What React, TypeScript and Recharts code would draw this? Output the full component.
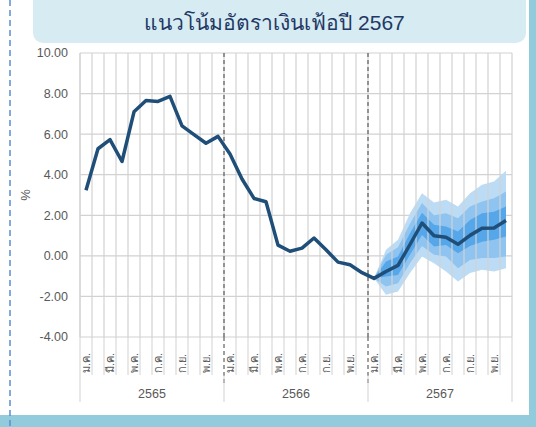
import React from 'react';
import { ComposedChart, Line, Area, XAxis, YAxis, CartesianGrid, ReferenceLine } from 'recharts';

const years = ['2565', '2566', '2567'];
const monthNames = ['ม.ค.', 'ก.พ.', 'มี.ค.', 'เม.ย.', 'พ.ค.', 'มิ.ย.', 'ก.ค.', 'ส.ค.', 'ก.ย.', 'ต.ค.', 'พ.ย.', 'ธ.ค.'];

const cpi = [
  3.23, 5.28, 5.73, 4.65, 7.1, 7.66, 7.61, 7.86, 6.41, 5.98, 5.55, 5.89,
  5.02, 3.79, 2.83, 2.67, 0.53, 0.23, 0.38, 0.88, 0.3, -0.31, -0.44, -0.83,
  -1.11, -0.77, -0.47, 0.56, 1.62, 0.99, 0.92, 0.57, 1.01, 1.36, 1.37, 1.74,
];

// fan chart bands for 2567 (Jan..Dec)
const outerHi = [-1.11, 0.3, 0.8, 2.1, 3.09, 2.63, 2.76, 2.43, 3.09, 3.5, 3.66, 4.2];
const midHi = [-1.11, 0.05, 0.43, 1.6, 2.6, 2.0, 2.1, 1.86, 2.43, 2.68, 2.84, 3.17];
const innerHi = [-1.11, -0.28, -0.03, 1.12, 2.13, 1.53, 1.45, 1.2, 1.77, 2.1, 2.18, 2.43];
const innerLo = [-1.11, -1.02, -0.94, 0.05, 1.03, 0.46, 0.54, 0.13, 0.49, 0.7, 0.79, 0.95];
const midLo = [-1.11, -1.51, -1.35, -0.36, 0.49, 0.05, -0.03, -0.61, -0.2, -0.11, -0.11, -0.03];
const outerLo = [-1.11, -1.92, -1.76, -0.85, -0.03, -0.36, -0.77, -1.26, -0.85, -0.69, -0.77, -0.61];

const yTicks = [-4, -2, 0, 2, 4, 6, 8, 10];
const forecastStart = 24;
const nMonths = cpi.length;

const boundaries = Array.from({ length: nMonths + 1 }, (_, i) => i);
const monthTicks = Array.from({ length: nMonths * 2 + 1 }, (_, i) => i / 2);
const yearTicks = [0, 6, 12, 18, 24, 30, 36];

const data = cpi.map((v, i) => {
  const f = i - forecastStart;
  const inF = f >= 0;
  return {
    x: i + 0.5,
    cpi: v,
    outer: inF ? [outerLo[f], outerHi[f]] : null,
    mid: inF ? [midLo[f], midHi[f]] : null,
    inner: inF ? [innerLo[f], innerHi[f]] : null,
  };
});

const FONT = '"Liberation Sans", "Noto Sans", sans-serif';
const GRID = '#d2d2d2';
const TXT = '#595959';

const MonthTick = (props: any) => {
  const { x, y, payload } = props;
  const v = payload.value;
  if (Number.isInteger(v)) {
    const isYearSep = v % 12 === 0 && v > 0 && v < nMonths;
    return isYearSep ? (
      <line x1={x} x2={x} y1={y} y2={y + 46} stroke="#404040" strokeWidth={1} strokeDasharray="4 3" />
    ) : (
      <line x1={x} x2={x} y1={y} y2={y + 38} stroke={GRID} strokeWidth={1} />
    );
  }
  const idx = v - 0.5;
  const m = idx % 12;
  if (m % 2 !== 0) return <g />;
  return (
    <text
      transform={`translate(${x},${y + 36}) rotate(-90)`}
      textAnchor="start"
      dominantBaseline="central"
      fill={TXT}
      fontSize={11}
      fontFamily={FONT}
    >
      {monthNames[m]}
    </text>
  );
};

const YearTick = (props: any) => {
  const { x, y, payload } = props;
  const v = payload.value;
  if (v % 12 === 0) {
    return <line x1={x} x2={x} y1={y} y2={y + 27} stroke={GRID} strokeWidth={1} />;
  }
  return (
    <text x={x} y={y + 23} textAnchor="middle" fill={TXT} fontSize={12.5} fontFamily={FONT}>
      {years[(v - 6) / 12]}
    </text>
  );
};

export default function App() {
  return (
    <div
      style={{
        position: 'absolute',
        left: 0,
        top: 0,
        width: 536,
        height: 427,
        background: '#ffffff',
        overflow: 'hidden',
        fontFamily: FONT,
      }}
    >
      <div style={{ position: 'absolute', left: 529, top: 0, width: 7, height: 427, background: '#92cbdc' }} />
      <div style={{ position: 'absolute', left: 0, top: 415, width: 536, height: 12, background: '#92cbdc' }} />
      <svg style={{ position: 'absolute', left: 0, top: 0 }} width={20} height={427}>
        <line x1={10} x2={10} y1={0} y2={427} stroke="#5b8fd0" strokeWidth={1.5} strokeDasharray="6 4" />
      </svg>
      <div style={{ position: 'absolute', left: 0, top: 0 }}>
        <ComposedChart width={536} height={427} data={data} margin={{ top: 53, right: 24, bottom: 25, left: 0 }}>
          <CartesianGrid vertical={false} stroke={GRID} strokeWidth={1.2} />
          {boundaries.map((b) => (
            <ReferenceLine key={'g' + b} x={b} xAxisId="m" stroke={GRID} strokeWidth={1.2} />
          ))}
          <XAxis
            xAxisId="m"
            type="number"
            dataKey="x"
            domain={[0, nMonths]}
            ticks={monthTicks}
            interval={0}
            height={38}
            tickSize={0}
            tickMargin={0}
            tickLine={false}
            axisLine={false}
            tick={MonthTick}
          />
          <XAxis
            xAxisId="yr"
            type="number"
            dataKey="x"
            domain={[0, nMonths]}
            ticks={yearTicks}
            interval={0}
            height={27}
            tickSize={0}
            tickMargin={0}
            tickLine={false}
            axisLine={false}
            tick={YearTick}
          />
          <YAxis
            width={80}
            domain={[-4, 10]}
            ticks={yTicks}
            interval={0}
            tickFormatter={(v: number) => v.toFixed(2)}
            tickLine={false}
            tickMargin={6}
            axisLine={{ stroke: GRID }}
            tick={{ fill: TXT, fontSize: 12.5, fontFamily: FONT }}
            label={{
              content: (p: any) => {
                const vb = p.viewBox || { x: 0, y: 53, width: 80, height: 284 };
                return (
                  <text
                    transform={`translate(${vb.x + 25},${vb.y + vb.height / 2}) rotate(-90)`}
                    textAnchor="middle"
                    dominantBaseline="central"
                    fill={TXT}
                    fontSize={13}
                    fontFamily={FONT}
                  >
                    %
                  </text>
                );
              },
            }}
          />
          <Area xAxisId="m" type="linear" dataKey="outer" stroke="none" fill="#bcdcf6" fillOpacity={1} isAnimationActive={false} />
          <Area xAxisId="m" type="linear" dataKey="mid" stroke="none" fill="#8fc4f0" fillOpacity={1} isAnimationActive={false} />
          <Area xAxisId="m" type="linear" dataKey="inner" stroke="none" fill="#56a6ea" fillOpacity={1} isAnimationActive={false} />
          {[12, 24].map((b) => (
            <ReferenceLine key={'d' + b} x={b} xAxisId="m" stroke="#404040" strokeWidth={1} strokeDasharray="4 3" />
          ))}
          <Line
            xAxisId="m"
            type="linear"
            dataKey="cpi"
            stroke="#1f4e79"
            strokeWidth={3.5}
            strokeLinejoin="round"
            dot={false}
            isAnimationActive={false}
          />
        </ComposedChart>
      </div>
      <div
        style={{
          position: 'absolute',
          left: 33,
          top: -12,
          width: 493,
          height: 55,
          borderRadius: 10,
          background: '#d6ebf2',
        }}
      />
      <div
        style={{
          position: 'absolute',
          left: 33,
          top: 1,
          width: 483,
          height: 43,
          lineHeight: '43px',
          textAlign: 'center',
          color: '#1f3864',
          fontSize: 21,
          fontWeight: 500,
          whiteSpace: 'nowrap',
        }}
      >
        แนวโน้มอัตราเงินเฟ้อปี 2567
      </div>
    </div>
  );
}
